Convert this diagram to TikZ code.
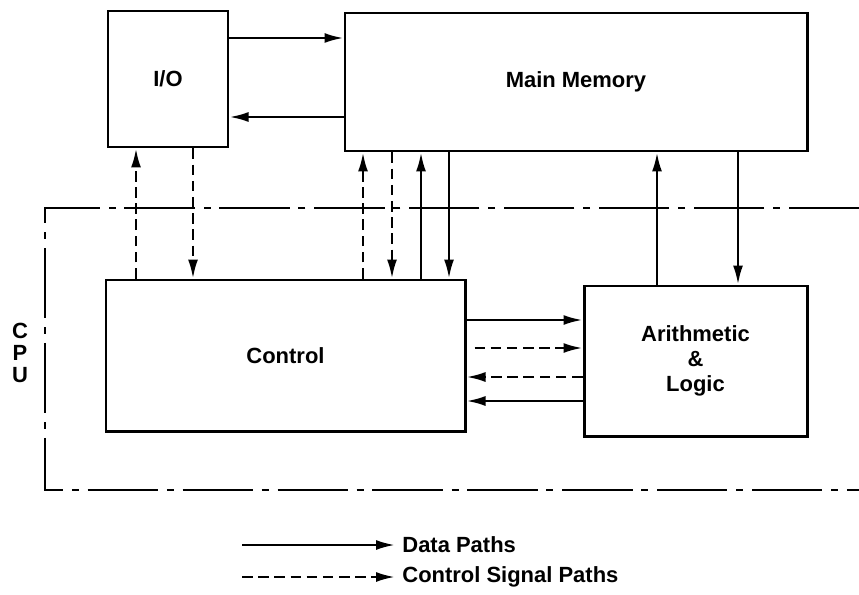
\documentclass[tikz,border=0pt]{standalone}
\usepackage{fontspec}
\setsansfont{Liberation Sans}
\usetikzlibrary{arrows.meta,positioning}
\tikzset{
  unit/.style={rectangle,draw=black,line width=1.7pt,inner sep=0pt,align=center,
    font=\sffamily\bfseries\fontsize{12.5}{14.2}\selectfont},
  lbl/.style={inner sep=4pt,align=center,font=\sffamily\bfseries\fontsize{12.5}{14.2}\selectfont},
  % data paths solid, control signals dashed; tips stay solid
  dpath/.style={-{Latex[length=3.8mm,width=2mm]},line width=1.4pt},
  cpath/.style={dpath,dash pattern=on 6pt off 3.2pt},
  cpubound/.style={line width=1.4pt,dash pattern=on 40pt off 5pt on 4pt off 5pt},
}

\begin{document}
\begin{tikzpicture}[x=0.2mm,y=-0.2mm]
  \useasboundingbox (0,0) rectangle (859,594);
  % blocks
  \node[unit,minimum width=24mm,minimum height=27.2mm] (io) at (168,79) {I/O};
  \node[unit,minimum width=92.4mm,minimum height=27.6mm] (mem) at (576,82) {Main Memory};
  \node[unit,minimum width=71.8mm,minimum height=30.2mm] (ctl) at (285.5,355.5) {Control};
  \node[unit,minimum width=44.6mm,minimum height=30mm] (alu) at (695.5,361) {Arithmetic\\\&\\Logic};
  % where the paths run
  \coordinate (ya) at (0,38);   \coordinate (yb) at (0,117);
  \coordinate (yc) at (0,320);  \coordinate (yd) at (0,348);
  \coordinate (ye) at (0,377);  \coordinate (yf) at (0,401);
  \coordinate (xa) at (136,0);  \coordinate (xb) at (193,0);
  \coordinate (xc) at (363,0);  \coordinate (xd) at (392,0);
  \coordinate (xe) at (421,0);  \coordinate (xf) at (449,0);
  \coordinate (xg) at (657,0);  \coordinate (xh) at (738,0);
  % I/O and memory
  \draw[dpath] (io.east |- ya) -- (mem.west |- ya);
  \draw[dpath] (mem.west |- yb) -- (io.east |- yb);
  % control to I/O and memory
  \draw[cpath] (ctl.north -| xa) -- (io.south -| xa);
  \draw[cpath] (io.south -| xb) -- (ctl.north -| xb);
  \draw[cpath] (ctl.north -| xc) -- (mem.south -| xc);
  \draw[cpath] (mem.south -| xd) -- (ctl.north -| xd);
  \draw[dpath] (ctl.north -| xe) -- (mem.south -| xe);
  \draw[dpath] (mem.south -| xf) -- (ctl.north -| xf);
  % memory and ALU
  \draw[dpath] (alu.north -| xg) -- (mem.south -| xg);
  \draw[dpath] (mem.south -| xh) -- (alu.north -| xh);
  % control and ALU
  \draw[dpath] (ctl.east |- yc) -- (alu.west |- yc);
  \draw[cpath,shorten <=1.6mm] (ctl.east |- yd) -- (alu.west |- yd);
  \draw[cpath] (alu.west |- ye) -- (ctl.east |- ye);
  \draw[dpath] (alu.west |- yf) -- (ctl.east |- yf);
  % CPU boundary
  \coordinate (cputr) at (859,208); \coordinate (cputl) at (45,208);
  \coordinate (cpubl) at (45,490);  \coordinate (cpubr) at (859,490);
  \draw[cpubound] (cputr) -- (cputl) -- (cpubl) -- (cpubr);
  \node[lbl,font=\sffamily\bfseries\fontsize{12.5}{12.4}\selectfont] (cpu) at (20,353) {C\\P\\U};
  % legend
  \coordinate (ld0) at (242,545); \coordinate (lc0) at (242,577);
  \node[lbl,anchor=west] (ldata) at (395,545) {Data Paths};
  \node[lbl,anchor=west] (lctl) at (395,577) {Control Signal Paths};
  \draw[dpath] (ld0) -- (ldata.west);
  \draw[cpath] (lc0) -- (lctl.west);
\end{tikzpicture}
\end{document}
